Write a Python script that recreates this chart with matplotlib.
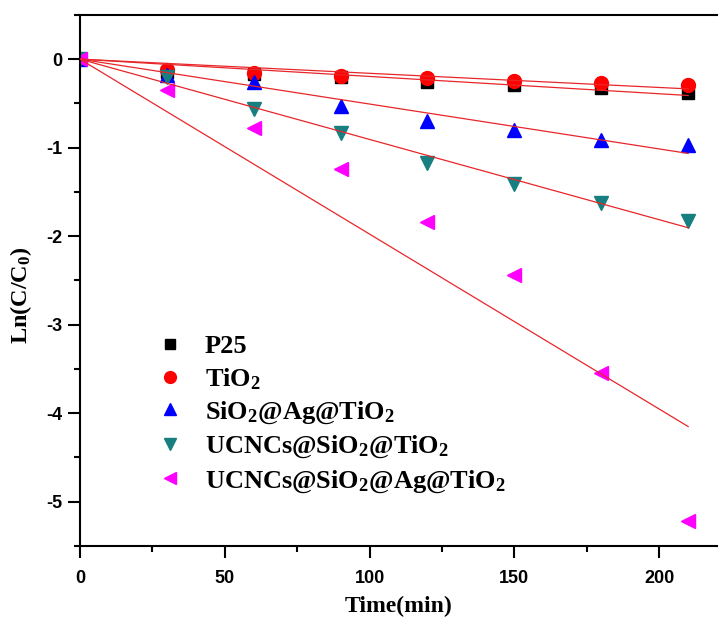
import numpy as np
import matplotlib
matplotlib.use('Agg')
import matplotlib.pyplot as plt

plt.rcParams['mathtext.fontset'] = 'custom'
plt.rcParams['mathtext.rm'] = 'Liberation Serif:bold'
plt.rcParams['mathtext.bf'] = 'Liberation Serif:bold'
plt.rcParams['mathtext.it'] = 'Liberation Serif:bold'

time = [0, 30, 60, 90, 120, 150, 180, 210]
p25 = [0, -0.14, -0.17, -0.20, -0.26, -0.29, -0.33, -0.38]
tio2 = [0, -0.12, -0.155, -0.19, -0.21, -0.245, -0.265, -0.295]
sio2_ag_tio2 = [0, -0.18, -0.26, -0.53, -0.70, -0.80, -0.91, -0.965]
ucncs_sio2_tio2 = [0, -0.20, -0.56, -0.84, -1.17, -1.41, -1.62, -1.83]
ucncs_sio2_ag_tio2 = [0, -0.35, -0.78, -1.24, -1.84, -2.44, -3.55, -5.22]

labels = ['P25', 'TiO$_2$', 'SiO$_2$@Ag@TiO$_2$',
          'UCNCs@SiO$_2$@TiO$_2$', 'UCNCs@SiO$_2$@Ag@TiO$_2$']
markers = ['s', 'o', '^', 'v', '<']
colors = ['black', 'red', 'blue', '#177f7f', 'magenta']
sizes = [8, 10, 10, 10, 10]

fig = plt.figure(figsize=(7.2, 6.21), dpi=100)
ax = fig.add_axes([0.111, 0.121, 0.885, 0.855])

t = np.array(time, dtype=float)
series = [p25, tio2, sio2_ag_tio2, ucncs_sio2_tio2, ucncs_sio2_ag_tio2]
handles = []
for y, lab, m, c, s in zip(series, labels, markers, colors, sizes):
    y = np.array(y)
    h, = ax.plot(t, y, ls='none', marker=m, ms=s, color=c, mec=c, label=lab, zorder=2)
    handles.append(h)
    # linear fit through the origin
    k = np.sum(t * y) / np.sum(t * t)
    ax.plot(t, k * t, color='#e8262a', lw=0.9, zorder=3)

ax.set_xlim(0, 220)
ax.set_ylim(-5.5, 0.5)
ax.set_xticks([0, 50, 100, 150, 200])
ax.set_xticks([25, 75, 125, 175], minor=True)
ax.set_yticks([0, -1, -2, -3, -4, -5])
ax.set_yticks(np.arange(-5.5, 0.6, 1.0), minor=True)
ax.set_yticklabels(['0', '-1', '-2', '-3', '-4', '-5'])

ax.spines['right'].set_visible(False)
for sp in ['left', 'bottom', 'top']:
    ax.spines[sp].set_linewidth(1.5)
ax.tick_params(which='major', direction='out', length=8.5, width=1.5,
               top=False, right=False)
ax.tick_params(which='minor', direction='out', length=4, width=1.5,
               top=False, right=False)
ax.tick_params(axis='x', which='major', pad=9)
ax.tick_params(axis='y', which='major', pad=4)
for lbl in ax.get_xticklabels() + ax.get_yticklabels():
    lbl.set_fontfamily('Liberation Sans')
    lbl.set_fontweight('bold')
    lbl.set_fontsize(13)

ax.set_xlabel('Time(min)', fontfamily='Liberation Serif', fontweight='bold',
              fontsize=17, labelpad=6)
ax.set_ylabel('Ln(C/C$_0$)', fontfamily='Liberation Serif', fontweight='bold',
              fontsize=17.5)
ax.yaxis.set_label_coords(-0.072, 0.473)

leg = ax.legend(handles=handles, loc='upper left', bbox_to_anchor=(0.121, 0.398),
                frameon=False, borderpad=0, borderaxespad=0, handlelength=1.0,
                handletextpad=0.8, labelspacing=0.3, markerscale=0.85,
                prop={'family': 'Liberation Serif', 'weight': 'bold', 'size': 19})

fig.savefig('out.png', dpi=100)
